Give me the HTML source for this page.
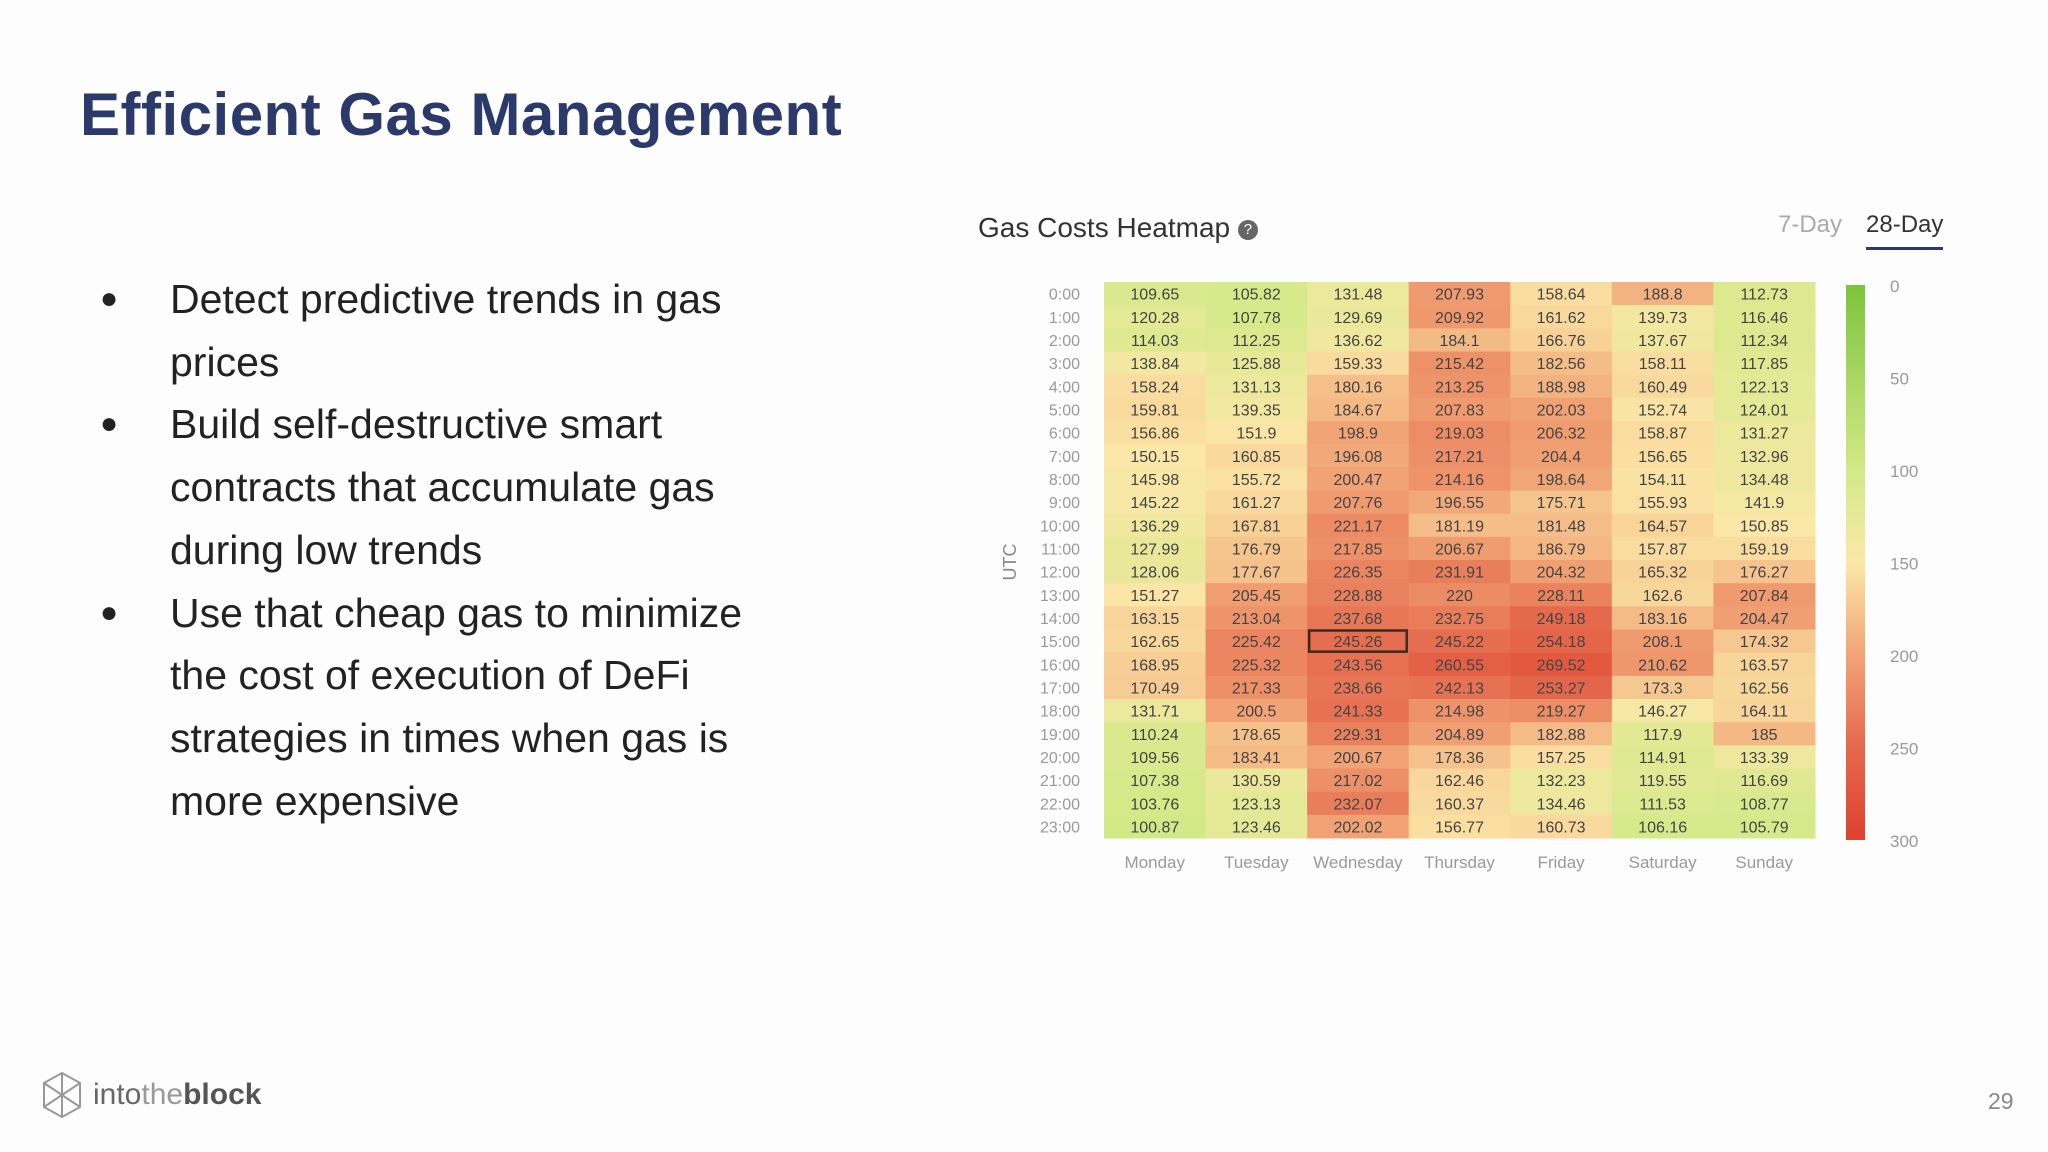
<!DOCTYPE html>
<html><head><meta charset="utf-8"><style>
body{margin:0;width:2048px;height:1152px;background:#fdfdfd;font-family:"Liberation Sans",sans-serif;overflow:hidden;position:relative}
.abs{position:absolute}
#title{left:80px;top:80px;font-size:60px;font-weight:bold;color:#2b3a6b;margin:0;letter-spacing:0.5px}
ul{position:absolute;left:100px;top:268px;margin:0;padding:0;list-style:none;font-size:41px;color:#222;line-height:62.7px;width:700px}
li{position:relative;padding-left:70px}
li:before{content:"●";position:absolute;left:0;font-size:30px}
</style></head><body>
<h1 id="title" class="abs">Efficient Gas Management</h1>
<ul>
<li>Detect predictive trends in gas prices</li>
<li>Build self-destructive smart contracts that accumulate gas during low trends</li>
<li>Use that cheap gas to minimize the cost of execution of DeFi strategies in times when gas is more expensive</li>
</ul>
<div class="abs" style="left:978px;top:212px;font-size:28px;color:#333">Gas Costs Heatmap <span style="display:inline-block;width:20px;height:20px;border-radius:50%;background:#666;color:#fff;font-size:15px;text-align:center;line-height:20px;vertical-align:middle">?</span></div>
<div class="abs" style="left:1778px;top:211px;font-size:24px;color:#aaa">7-Day</div>
<div class="abs" style="left:1866px;top:211px;font-size:24px;color:#333;border-bottom:3px solid #2b3a6b;padding-bottom:8px">28-Day</div>
<svg id="chart" class="abs" style="left:0;top:0" width="2048" height="1152"></svg>
<svg class="abs" style="left:40px;top:1070px" width="45" height="50"><g fill="none" stroke="#999" stroke-width="2"><path d="M22 3 L40 13 L40 37 L22 47 L4 37 L4 13 Z"/><path d="M4 13 L40 37 M40 13 L4 37 M22 3 L22 47"/></g></svg>
<div class="abs" style="left:93px;top:1078px;font-size:30px;color:#666">into<span style="color:#999">the</span><b style="color:#555">block</b></div>
<div class="abs" style="left:1988px;top:1088px;font-size:23px;color:#888">29</div>
<script>
const days=["Monday","Tuesday","Wednesday","Thursday","Friday","Saturday","Sunday"];
const hours=["0:00","1:00","2:00","3:00","4:00","5:00","6:00","7:00","8:00","9:00","10:00","11:00","12:00","13:00","14:00","15:00","16:00","17:00","18:00","19:00","20:00","21:00","22:00","23:00"];
const mon=[109.65,120.28,114.03,138.84,158.24,159.81,156.86,150.15,145.98,145.22,136.29,127.99,128.06,151.27,163.15,162.65,168.95,170.49,131.71,110.24,109.56,107.38,103.76,100.87];
const tue=[105.82,107.78,112.25,125.88,131.13,139.35,151.9,160.85,155.72,161.27,167.81,176.79,177.67,205.45,213.04,225.42,225.32,217.33,200.5,178.65,183.41,130.59,123.13,123.46];
const wed=[131.48,129.69,136.62,159.33,180.16,184.67,198.9,196.08,200.47,207.76,221.17,217.85,226.35,228.88,237.68,245.26,243.56,238.66,241.33,229.31,200.67,217.02,232.07,202.02];
const thu=[207.93,209.92,184.1,215.42,213.25,207.83,219.03,217.21,214.16,196.55,181.19,206.67,231.91,220,232.75,245.22,260.55,242.13,214.98,204.89,178.36,162.46,160.37,156.77];
const fri=[158.64,161.62,166.76,182.56,188.98,202.03,206.32,204.4,198.64,175.71,181.48,186.79,204.32,228.11,249.18,254.18,269.52,253.27,219.27,182.88,157.25,132.23,134.46,160.73];
const sat=[188.8,139.73,137.67,158.11,160.49,152.74,158.87,156.65,154.11,155.93,164.57,157.87,165.32,162.6,183.16,208.1,210.62,173.3,146.27,117.9,114.91,119.55,111.53,106.16];
const sun=[112.73,116.46,112.34,117.85,122.13,124.01,131.27,132.96,134.48,141.9,150.85,159.19,176.27,207.84,204.47,174.32,163.57,162.56,164.11,185,133.39,116.69,108.77,105.79];
const series=[mon,tue,wed,thu,fri,sat,sun];
const scaleTicks=[0,50,100,150,200,250,300];
const NS="http://www.w3.org/2000/svg";
const svg=document.getElementById("chart");
const X0=1104,X1=1815,Y0=282,Y1=838;
const cw=(X1-X0)/days.length,ch=(Y1-Y0)/hours.length;
const xPos=i=>X0+i*cw, yPos=j=>Y0+j*ch;
const stops=[[0,[125,196,60]],[100,[210,233,135]],[150,[251,232,168]],[200,[241,164,118]],[250,[229,104,76]],[300,[221,66,46]]];
function color(v){v=Math.max(0,Math.min(300,v));for(let k=1;k<stops.length;k++){if(v<=stops[k][0]){const a=stops[k-1],b=stops[k],t=(v-a[0])/(b[0]-a[0]);return "rgb("+a[1].map((c,i)=>Math.round(c+(b[1][i]-c)*t)).join(",")+")";}}}
function mk(tag,attrs){const e=document.createElementNS(NS,tag);for(const k in attrs)e.setAttribute(k,attrs[k]);svg.appendChild(e);return e;}
series.forEach((col,i)=>col.forEach((v,j)=>{
 const r=mk("rect",{x:xPos(i),y:yPos(j),width:cw+0.5,height:ch+0.5,fill:color(v)});
 
 
 const t=mk("text",{x:xPos(i)+cw/2,y:yPos(j)+ch/2+6,"text-anchor":"middle","font-size":"16",fill:"#444"});
 t.textContent=v;
 
 
}));
const hb=mk("rect",{x:xPos(2)+2,y:yPos(15)+1,width:cw-4,height:ch-2,fill:"none",stroke:"#3a2a20","stroke-width":2.5});


hours.forEach((h,j)=>{const t=mk("text",{x:X0-24,y:yPos(j)+ch/2+6,"text-anchor":"end","font-size":"16",fill:"#999"});t.textContent=h;
 
 });
days.forEach((d,i)=>{const t=mk("text",{x:xPos(i)+cw/2,y:868,"text-anchor":"middle","font-size":"17",fill:"#999"});t.textContent=d;
 
 });
const ut=mk("text",{x:0,y:0,transform:"translate(1016,562) rotate(-90)","text-anchor":"middle","font-size":"18",fill:"#888"});ut.textContent="UTC";


const CB0=285,CB1=840;
const cbY=v=>CB0+(v/300)*(CB1-CB0);
const defs=mk("defs",{});const lg=document.createElementNS(NS,"linearGradient");lg.setAttribute("id","cbg");lg.setAttribute("x1","0");lg.setAttribute("y1","0");lg.setAttribute("x2","0");lg.setAttribute("y2","1");defs.appendChild(lg);
for(let v=0;v<=300;v+=25){const s=document.createElementNS(NS,"stop");s.setAttribute("offset",v/300);s.setAttribute("stop-color",color(v));lg.appendChild(s);}
const cb=mk("rect",{x:1846,y:CB0,width:19,height:CB1-CB0,fill:"url(#cbg)"});


scaleTicks.forEach(v=>{const t=mk("text",{x:1890,y:cbY(v)+7,"font-size":"17",fill:"#999"});t.textContent=v;
 
 });
</script>
</body></html>
